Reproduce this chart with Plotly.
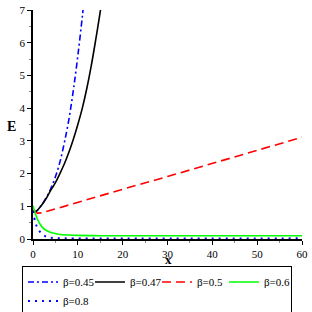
import plotly.graph_objects as go

# beta = 0.45 (blue dash-dot)
x045 = [0, 0.5, 1, 2, 3, 4, 5, 6, 7, 8, 9, 10, 11, 11.6]
y045 = [0.88, 0.84, 0.88, 1.05, 1.28, 1.55, 1.9, 2.35, 2.95, 3.65, 4.55, 5.6, 6.8, 7.6]
# beta = 0.47 (black solid)
x047 = [0, 0.5, 1, 2, 3, 4, 5, 6, 7, 8, 9, 10, 11, 12, 13, 14, 15, 15.5]
y047 = [0.88, 0.83, 0.88, 1.05, 1.25, 1.5, 1.72, 2.0, 2.3, 2.65, 3.05, 3.5, 4.0, 4.6, 5.3, 6.1, 6.95, 7.4]
# beta = 0.5 (red dashed)
x05 = [0, 1, 2, 10, 20, 30, 40, 50, 60]
y05 = [0.86, 0.79, 0.8, 1.13, 1.52, 1.91, 2.31, 2.71, 3.11]
# beta = 0.6 (green solid)
x06 = [0, 0.5, 1, 2, 3, 4, 6, 8, 10, 15, 20, 60]
y06 = [1.02, 0.78, 0.6, 0.37, 0.26, 0.2, 0.14, 0.12, 0.11, 0.1, 0.1, 0.1]
# beta = 0.8 (blue dotted)
x08 = [0, 0.5, 1, 2, 3, 4, 5, 7, 60]
y08 = [0.86, 0.52, 0.34, 0.15, 0.07, 0.04, 0.03, 0.02, 0.02]

FONT = "Liberation Serif"

fig = go.Figure()
fig.add_trace(go.Scatter(x=x045, y=y045, mode="lines", name="β=0.45",
                         line=dict(color="#0000ff", width=1.6, dash="6px,3px,2px,3px", shape="spline")))
fig.add_trace(go.Scatter(x=x047, y=y047, mode="lines", name="β=0.47",
                         line=dict(color="#000000", width=1.6, shape="spline")))
fig.add_trace(go.Scatter(x=x05, y=y05, mode="lines", name="β=0.5",
                         line=dict(color="#ff0000", width=1.6, dash="9px,5px")))
fig.add_trace(go.Scatter(x=x06, y=y06, mode="lines", name="β=0.6",
                         line=dict(color="#00ff00", width=1.6, shape="spline")))
fig.add_trace(go.Scatter(x=x08, y=y08, mode="lines", name="β=0.8",
                         line=dict(color="#0000ff", width=2, dash="2px,5px", shape="spline")))

fig.update_layout(
    width=312, height=312,
    margin=dict(l=33, r=10, t=10, b=73, autoexpand=False),
    plot_bgcolor="white", paper_bgcolor="white",
    font=dict(family=FONT, size=11, color="black"),
    showlegend=True,
    legend=dict(orientation="h", x=-0.041, xanchor="left", y=-0.12, yanchor="top",
                bordercolor="black", borderwidth=1, bgcolor="white",
                font=dict(family=FONT, size=11), entrywidth=22, entrywidthmode="pixels",
                tracegroupgap=0, itemwidth=30),
    xaxis=dict(range=[0, 60], showgrid=False, zeroline=False,
               showline=True, linecolor="black", linewidth=1.5,
               ticks="outside", ticklen=4, tickcolor="black",
               tickvals=[0, 10, 20, 30, 40, 50, 60], ticklabeloverflow="allow",
               tickfont=dict(family=FONT, size=11),
               minor=dict(ticks="outside", ticklen=2, dtick=5, tickcolor="#888")),
    yaxis=dict(range=[0, 7], showgrid=False, zeroline=False,
               showline=True, linecolor="black", linewidth=1.5,
               ticks="outside", ticklen=4, tickcolor="black",
               tickvals=[0, 1, 2, 3, 4, 5, 6, 7], ticklabeloverflow="allow",
               tickfont=dict(family=FONT, size=11),
               minor=dict(ticks="outside", ticklen=2, dtick=0.5, tickcolor="#888")),
    annotations=[
        dict(text="<b>E</b>", x=-0.08, xref="paper", xanchor="center",
             y=3.43, yref="y", yanchor="middle", showarrow=False,
             font=dict(family=FONT, size=14)),
        dict(text="<b>x</b>", x=0.503, xref="paper", xanchor="center",
             y=-0.089, yref="paper", yanchor="middle", showarrow=False,
             font=dict(family=FONT, size=13)),
    ],
)

fig.write_html("out.html", config={"displayModeBar": False},
               post_script="document.body.style.margin='0';")
